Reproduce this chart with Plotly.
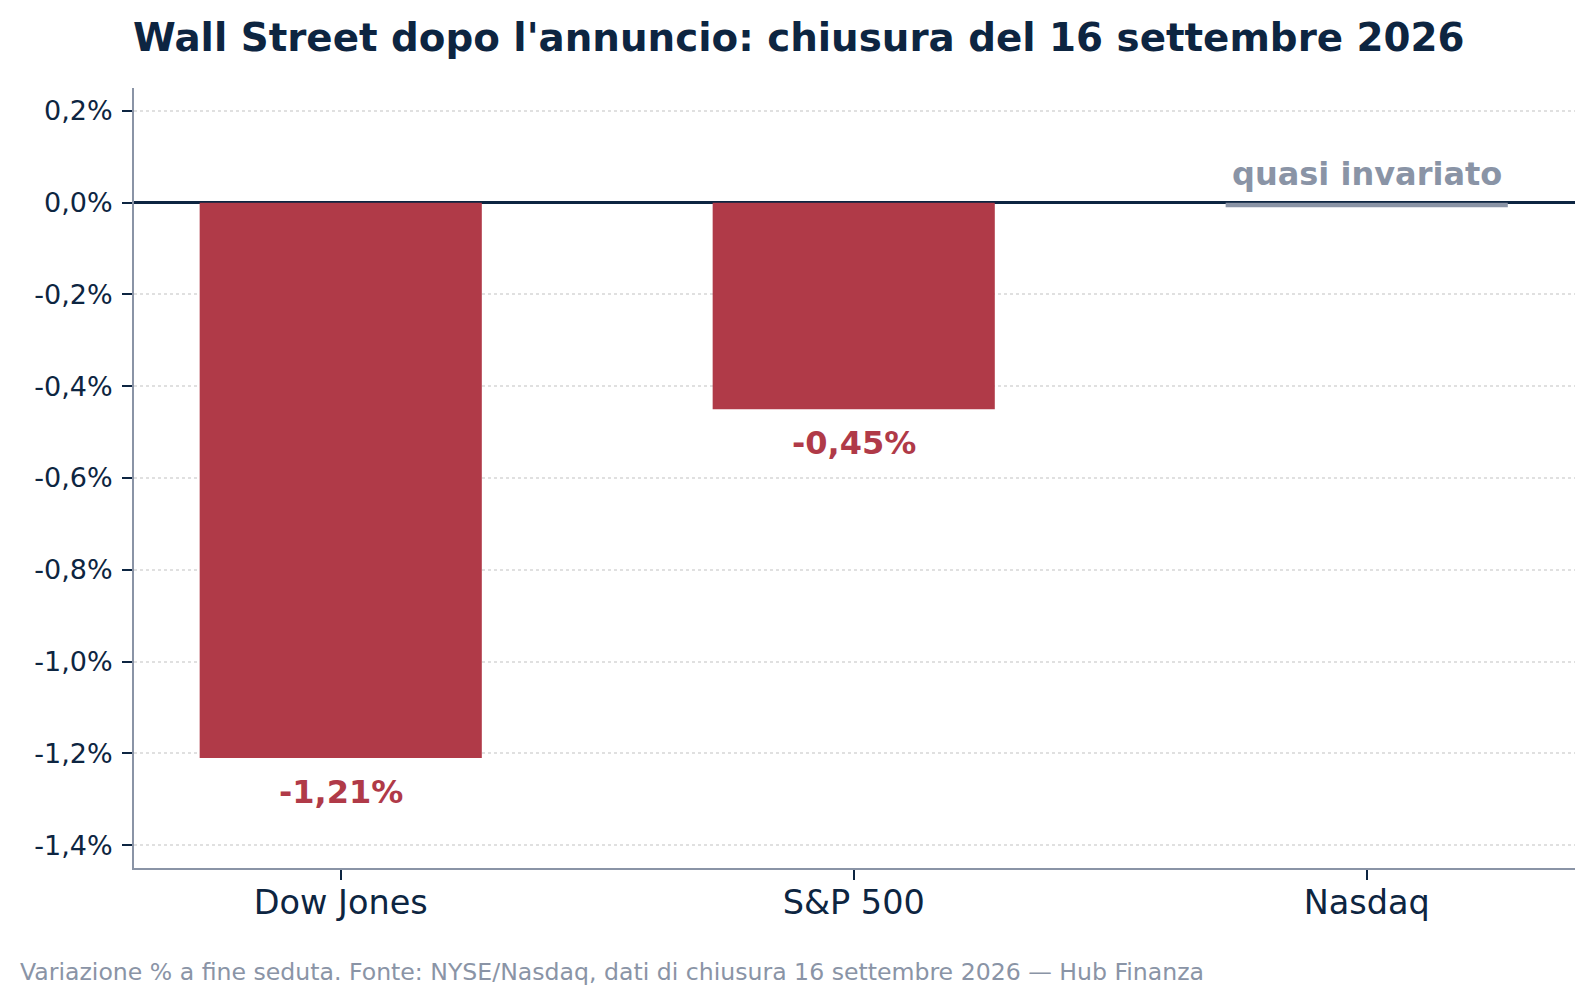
import plotly.graph_objects as go

# dati di chiusura
indici = ["Dow Jones", "S&P 500", "Nasdaq"]
variazioni = [-1.21, -0.45, -0.01]
etichette = ["-1,21%", "-0,45%", "quasi invariato"]
colori = ["#b03a48", "#b03a48", "#8a94a6"]

y_tick_vals = [0.2, 0.0, -0.2, -0.4, -0.6, -0.8, -1.0, -1.2, -1.4]
y_tick_text = ["0,2%", "0,0%", "-0,2%", "-0,4%", "-0,6%", "-0,8%", "-1,0%", "-1,2%", "-1,4%"]

NAVY = "#0d2541"
GRIGIO = "#8a94a6"
ROSSO = "#b03a48"
FONT = "DejaVu Sans"

# the html page puts an 8px margin round the plot, so shrink to fit
PAGE = 8
W, H = 1594 - PAGE, 1005 - PAGE
ML, MR, MT, MB = 134 - PAGE, 19, 88 - PAGE, 137
plot_w = W - ML - MR
plot_h = H - MT - MB

fig = go.Figure()
fig.add_trace(go.Bar(
    x=indici,
    y=variazioni,
    marker=dict(color=colori, line=dict(width=0)),
    width=0.55,
    hoverinfo="skip",
))

# etichette dei valori
for nome, v, lab in zip(indici, variazioni, etichette):
    if lab == "quasi invariato":
        fig.add_annotation(
            x=nome, y=0, text=f"<b>{lab}</b>", showarrow=False,
            yanchor="bottom", yshift=8,
            font=dict(family=FONT, size=32, color=GRIGIO),
        )
    else:
        fig.add_annotation(
            x=nome, y=v, text=f"<b>{lab}</b>", showarrow=False,
            yanchor="top", yshift=-13,
            font=dict(family=FONT, size=32, color=ROSSO),
        )

# nota a piè di pagina
fig.add_annotation(
    xref="paper", yref="paper",
    x=(18 - PAGE - ML) / plot_w, y=-(972 - PAGE - (H - MB)) / plot_h,
    xanchor="left", yanchor="middle", showarrow=False,
    text="Variazione % a fine seduta. Fonte: NYSE/Nasdaq, dati di chiusura 16 settembre 2026 — Hub Finanza",
    font=dict(family=FONT, size=23.6, color=GRIGIO),
)

fig.update_layout(
    width=W, height=H,
    margin=dict(l=ML, r=MR, t=MT, b=MB),
    paper_bgcolor="white", plot_bgcolor="white",
    showlegend=False,
    font=dict(family=FONT, color=NAVY),
    title=dict(
        text="<b>Wall Street dopo l'annuncio: chiusura del 16 settembre 2026</b>",
        x=(133 - PAGE) / W, xref="container", xanchor="left",
        y=1 - (37 - PAGE) / H, yref="container", yanchor="middle",
        font=dict(family=FONT, size=38.8, color=NAVY),
    ),
    xaxis=dict(
        range=[-0.403, 2.406],
        showline=True, linecolor=GRIGIO, linewidth=2,
        ticks="outside", ticklen=10, tickwidth=2, tickcolor=NAVY,
        tickfont=dict(family=FONT, size=33.5, color=NAVY),
        ticklabelstandoff=-6,
        showgrid=False,
    ),
    yaxis=dict(
        range=[-1.45, 0.25],
        tickvals=y_tick_vals, ticktext=y_tick_text,
        showline=True, linecolor=GRIGIO, linewidth=2,
        ticks="outside", ticklen=10, tickwidth=2, tickcolor=NAVY,
        tickfont=dict(family=FONT, size=27, color=NAVY),
        ticklabelstandoff=4,
        showgrid=True, gridcolor="#e0e0e0", gridwidth=1.5, griddash="dot",
        zeroline=True, zerolinecolor=NAVY, zerolinewidth=2.5,
    ),
)

fig.write_html("out.html")
